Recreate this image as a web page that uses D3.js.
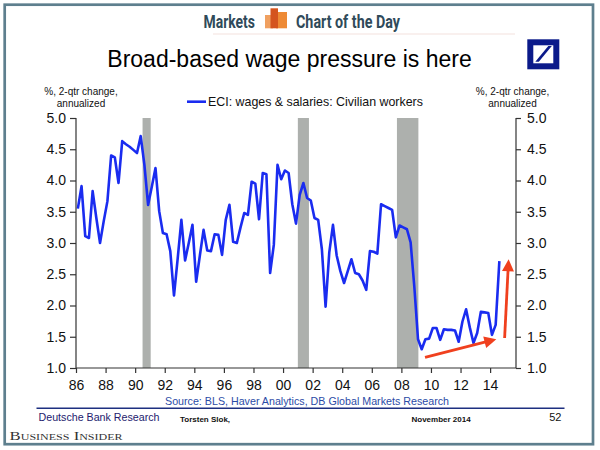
<!DOCTYPE html>
<html><head><meta charset="utf-8">
<script src="https://cdn.jsdelivr.net/npm/d3@7"></script>
<style>body{margin:0;background:#fff}svg{display:block}</style>
</head><body><svg id="c" width="600" height="450"></svg>
<script>
// ---------- data ----------
const headerLeft = "Markets";
const headerRight = "Chart of the Day";
const chartTitle = "Broad-based wage pressure is here";
const axisTitleLines = ["%, 2-qtr change,", "annualized"];
const seriesName = "ECI: wages & salaries: Civilian workers";
const sourceText = "Source: BLS, Haver Analytics, DB Global Markets Research";
const footerLeft = "Deutsche Bank Research";
const footerAuthor = "Torsten Slok,";
const footerDate = "November 2014";
const footerPage = "52";
const brand = "Business Insider";

const firstYear = 1986; // series starts 1986Q1, quarterly
const eciValues = [
  3.55, 3.91, 3.11, 3.08, 3.83, 3.40, 3.00, 3.35, 3.67, 4.40,
  4.37, 3.96, 4.63, 4.58, 4.54, 4.49, 4.44, 4.71, 4.25, 3.61,
  3.90, 4.20, 3.51, 3.16, 3.14, 2.87, 2.16, 2.75, 3.37, 2.72,
  3.00, 3.29, 2.38, 2.80, 3.21, 2.88, 2.87, 3.14, 3.13, 2.81,
  3.37, 3.61, 3.02, 3.00, 3.25, 3.48, 3.45, 3.98, 3.95, 3.38,
  4.12, 4.10, 2.52, 2.97, 4.25, 4.02, 4.16, 4.12, 3.62, 3.31,
  3.77, 3.96, 3.72, 3.68, 3.40, 3.37, 2.90, 1.98, 2.85, 3.29,
  2.80, 2.55, 2.36, 2.55, 2.74, 2.52, 2.50, 2.40, 2.25, 2.87,
  2.86, 2.83, 3.62, 3.59, 3.56, 3.53, 3.09, 3.28, 3.25, 3.22,
  3.01, 2.30, 1.46, 1.30, 1.46, 1.47, 1.64, 1.64, 1.45, 1.62,
  1.61, 1.61, 1.60, 1.42, 1.74, 1.94, 1.65, 1.40, 1.56, 1.90,
  1.89, 1.88, 1.53, 1.69, 2.71
];
const recessionStarts = [1990.5, 2001.0, 2007.7];
const recessionEnds   = [1991.05, 2001.75, 2009.15];
const yTickValues = [1.0, 1.5, 2.0, 2.5, 3.0, 3.5, 4.0, 4.5, 5.0];
const xTickYears  = [1986, 1988, 1990, 1992, 1994, 1996, 1998, 2000, 2002, 2004, 2006, 2008, 2010, 2012, 2014];
const xTickLabels = ["86", "88", "90", "92", "94", "96", "98", "00", "02", "04", "06", "08", "10", "12", "14"];
// annotation arrows: [year, value] start and end
const arrowStarts = [[2009.6, 1.17], [2014.98, 1.48]];
const arrowEnds   = [[2014.42, 1.46], [2015.25, 2.74]];

// ---------- drawing ----------
const svg = d3.select("#c");
const FONT = "Arial, 'Liberation Sans', Helvetica, sans-serif";
const x = d3.scaleLinear().domain([1986, 2015.75]).range([76, 516]);
const y = d3.scaleLinear().domain([1, 5]).range([368, 118]);

svg.append("rect").attr("width", 600).attr("height", 450).attr("fill", "#fff");

// frame
svg.append("rect").attr("x", 4.7).attr("y", 4.7).attr("width", 588.3).attr("height", 439.5)
  .attr("fill", "none").attr("stroke", "#5e7f8e").attr("stroke-width", 2.7);

// header
const hdr = svg.append("g").attr("font-family", "'Liberation Sans Narrow', 'Roboto', " + FONT)
  .attr("font-weight", "bold").attr("fill", "#2f4a5a").attr("font-size", 19);
hdr.append("text").attr("x", 203.5).attr("y", 27.5).attr("textLength", 51.5)
  .attr("lengthAdjust", "spacingAndGlyphs").text(headerLeft);
hdr.append("text").attr("x", 296).attr("y", 27.5).attr("textLength", 104)
  .attr("lengthAdjust", "spacingAndGlyphs").text(headerRight);
// header icon
const ic = svg.append("g");
ic.append("rect").attr("x", 265).attr("y", 15).attr("width", 8).attr("height", 13.3).attr("fill", "#f0a060");
ic.append("rect").attr("x", 276).attr("y", 12).attr("width", 11).attr("height", 16.3).attr("fill", "#ee8a35");
ic.append("rect").attr("x", 270.5).attr("y", 8.3).attr("width", 7.5).attr("height", 20).attr("fill", "#d4541f");
svg.append("line").attr("x1", 213).attr("x2", 515).attr("y1", 34).attr("y2", 34)
  .attr("stroke", "#f3e2dd").attr("stroke-width", 1.2);

// title
svg.append("text").attr("x", 289.5).attr("y", 67).attr("text-anchor", "middle")
  .attr("font-family", FONT).attr("font-size", 23).attr("fill", "#000").text(chartTitle);

// DB logo
svg.append("rect").attr("x", 530.3).attr("y", 42.3).attr("width", 26).attr("height", 24)
  .attr("fill", "#fff").attr("stroke", "#0b1a8a").attr("stroke-width", 6);
svg.append("path").attr("d", "M535.3,61.7 L538.8,61.7 L551.8,46 L548.3,46 Z").attr("fill", "#0b1a8a");

// axis titles
[81, 512.5].forEach(cx => {
  axisTitleLines.forEach((t, i) => {
    svg.append("text").attr("x", cx).attr("y", 91.7 + i * 11.6).attr("dy", "0.35em")
      .attr("text-anchor", "middle").attr("font-family", FONT).attr("font-size", 10)
      .attr("fill", "#111").text(t);
  });
});

// legend
svg.append("line").attr("x1", 187).attr("x2", 206).attr("y1", 101.7).attr("y2", 101.7)
  .attr("stroke", "#1a2cf0").attr("stroke-width", 2.6);
svg.append("text").attr("x", 208).attr("y", 101.7).attr("dy", "0.35em").attr("font-family", FONT)
  .attr("font-size", 12.4).attr("fill", "#111").text(seriesName);

// recession bars
svg.append("g").selectAll("rect").data(recessionStarts).join("rect")
  .attr("x", (d) => x(d)).attr("width", (d, i) => x(recessionEnds[i]) - x(d))
  .attr("y", y(5)).attr("height", y(1) - y(5)).attr("fill", "#adb0ad");

// line
const pts = eciValues.map((v, i) => [firstYear + i / 4 + 0.125, v]);
svg.append("path").datum(pts)
  .attr("d", d3.line().x(d => x(d[0])).y(d => y(d[1])))
  .attr("fill", "none").attr("stroke", "#1a2cf0").attr("stroke-width", 2.6)
  .attr("stroke-linejoin", "round");

// axes
const fmt = d3.format(".1f");
const gl = svg.append("g").attr("transform", `translate(${x(1986)},0)`)
  .call(d3.axisLeft(y).tickValues(yTickValues).tickFormat(fmt).tickSize(6).tickPadding(4));
const gr = svg.append("g").attr("transform", `translate(${x(2015.75)},0)`)
  .call(d3.axisRight(y).tickValues(yTickValues).tickFormat(fmt).tickSize(5).tickPadding(6));
const gb = svg.append("g").attr("transform", `translate(0,${y(1)})`)
  .call(d3.axisBottom(x).tickValues(xTickYears).tickFormat((d, i) => xTickLabels[i]).tickSize(5).tickPadding(7));
[gl, gr, gb].forEach(g => {
  g.select(".domain").attr("stroke", "#333").attr("stroke-width", 1.2);
  g.selectAll(".tick line").attr("stroke", "#333").attr("stroke-width", 1.2);
  g.selectAll(".tick text").attr("font-family", FONT).attr("font-size", 14).attr("fill", "#111");
});
gl.select(".domain").attr("d", `M0,${y(1)}V${y(5)}`);
gr.select(".domain").attr("d", `M0,${y(1)}V${y(5)}`);
gb.select(".domain").attr("d", `M${x(1986)},0H${x(2015.75)}`);

// arrows
const red = "#f0401e";
arrowStarts.forEach((s, i) => {
  const e = arrowEnds[i];
  const x0 = x(s[0]), y0 = y(s[1]), x1 = x(e[0]), y1 = y(e[1]);
  const dx = x1 - x0, dy = y1 - y0, L = Math.hypot(dx, dy);
  const ux = dx / L, uy = dy / L, hl = 12, hw = 6;
  const bx = x1 - ux * hl, by = y1 - uy * hl;
  svg.append("line").attr("x1", x0).attr("y1", y0).attr("x2", bx + ux).attr("y2", by + uy)
    .attr("stroke", red).attr("stroke-width", 2.8);
  svg.append("path").attr("d",
    `M${x1},${y1}L${bx - uy * hw},${by + ux * hw}L${bx + uy * hw},${by - ux * hw}Z`).attr("fill", red);
});

// source & footer
svg.append("text").attr("x", 307).attr("y", 400.7).attr("dy", "0.35em").attr("text-anchor", "middle")
  .attr("font-family", FONT).attr("font-size", 11.5).attr("fill", "#2b4ba6")
  .attr("textLength", 284).attr("lengthAdjust", "spacingAndGlyphs").text(sourceText);
svg.append("line").attr("x1", 36.5).attr("x2", 564.5).attr("y1", 408.3).attr("y2", 408.3)
  .attr("stroke", "#1d2f80").attr("stroke-width", 1.5);
svg.append("text").attr("x", 38.5).attr("y", 417.3).attr("dy", "0.35em").attr("font-family", FONT)
  .attr("font-size", 11).attr("fill", "#241a6e").attr("textLength", 121)
  .attr("lengthAdjust", "spacingAndGlyphs").text(footerLeft);
svg.append("text").attr("x", 180).attr("y", 419).attr("dy", "0.35em").attr("font-family", FONT)
  .attr("font-size", 8).attr("font-weight", "bold").attr("fill", "#111").text(footerAuthor);
svg.append("text").attr("x", 411.5).attr("y", 419).attr("dy", "0.35em").attr("font-family", FONT)
  .attr("font-size", 8).attr("font-weight", "bold").attr("fill", "#111").text(footerDate);
svg.append("text").attr("x", 561.5).attr("y", 417.5).attr("dy", "0.35em").attr("text-anchor", "end")
  .attr("font-family", FONT).attr("font-size", 11).attr("fill", "#111").text(footerPage);
svg.append("text").attr("x", 9.6).attr("y", 440).attr("font-family", "'Liberation Serif', 'DejaVu Serif', serif")
  .attr("font-size", 12.5).attr("font-variant", "small-caps").attr("fill", "#333")
  .attr("textLength", 113).attr("lengthAdjust", "spacingAndGlyphs").text(brand);
</script></body></html>
